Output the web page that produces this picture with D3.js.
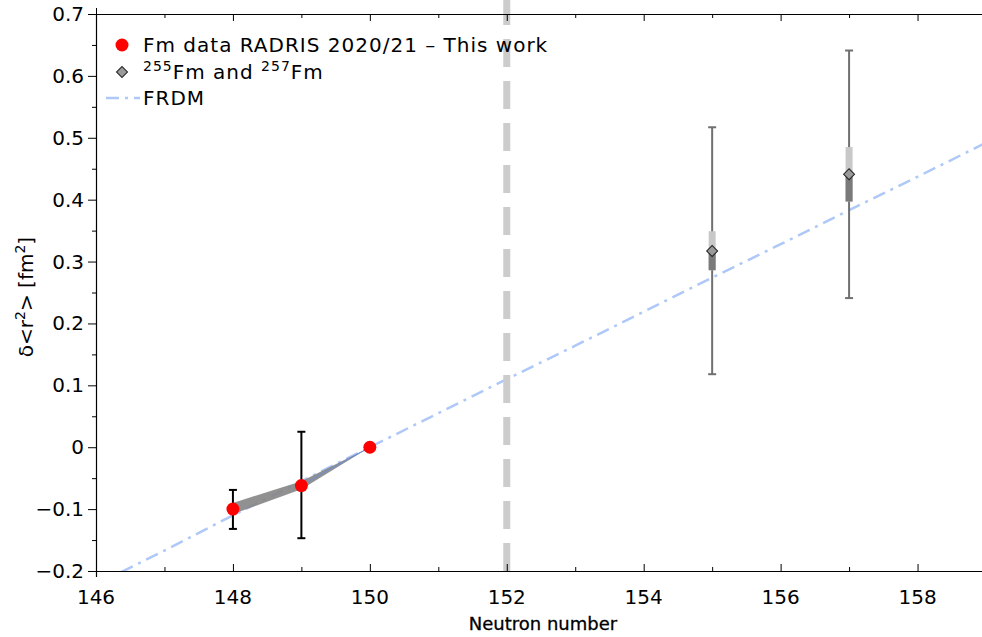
<!DOCTYPE html>
<html>
<head>
<meta charset="utf-8">
<script src="https://cdn.jsdelivr.net/npm/d3@7"></script>
<style>
  body { margin: 0; background: #fff; }
  svg { display: block; font-family: "DejaVu Sans", sans-serif; }
</style>
</head>
<body>
<svg id="chart" width="982" height="637"></svg>
<script>
// data
const fmN = [148, 149, 150];
const fmR2 = [-0.100, -0.062, 0.000];
const fmErrHi = [-0.069, 0.025, 0.000];
const fmErrLo = [-0.132, -0.147, 0.000];

// grey uncertainty band between the RADRIS points
const bandN = [148, 149, 150];
const bandHi = [-0.090, -0.055, 0.000];
const bandLo = [-0.108, -0.068, 0.000];

const oddN = [155, 157];
const oddR2 = [0.317, 0.441];
const oddErrHi = [0.517, 0.641];
const oddErrLo = [0.118, 0.241];
const oddSysHi = [0.349, 0.485];
const oddSysLo = [0.286, 0.397];

const frdmN = [146, 147, 148, 149, 150, 151, 152, 153, 154, 155, 156, 157, 158, 159];
const frdmR2 = [-0.222, -0.167, -0.110, -0.055, 0.000, 0.055, 0.110, 0.164, 0.219, 0.274, 0.328, 0.383, 0.437, 0.492];

const xTicks = [146, 148, 150, 152, 154, 156, 158];
const yTicks = [-0.2, -0.1, 0, 0.1, 0.2, 0.3, 0.4, 0.5, 0.6, 0.7];
const shellN = 152;

const svg = d3.select("#chart");
const plotL = 96, plotT = 14, plotR = 986, plotB = 571;

const x = d3.scaleLinear().domain([146, 159]).range([plotL, plotR]);
const y = d3.scaleLinear().domain([-0.2, 0.7]).range([plotB, plotT]);

svg.append("clipPath").attr("id", "plot-clip")
    .append("rect")
    .attr("x", plotL).attr("y", plotT)
    .attr("width", plotR - plotL).attr("height", plotB - plotT);

const g = svg.append("g").attr("clip-path", "url(#plot-clip)");

// N = 152 shell closure marker, dashes counted up from the axis
svg.append("line")
    .attr("x1", x(shellN)).attr("x2", x(shellN))
    .attr("y1", plotB).attr("y2", 0)
    .attr("stroke", "#cccccc")
    .attr("stroke-width", 7)
    .attr("stroke-dasharray", "28,14");

// FRDM
g.append("path")
    .datum(frdmN.map((n, i) => [n, frdmR2[i]]))
    .attr("d", d3.line().x(d => x(d[0])).y(d => y(d[1])))
    .attr("fill", "none")
    .attr("stroke", "#aec8f7")
    .attr("stroke-width", 2.5)
    .attr("stroke-dasharray", "13,6,3,6");

// grey band
const band = bandN.map((n, i) => ({ n, hi: bandHi[i], lo: bandLo[i] }));
g.append("path")
    .datum(band)
    .attr("d", d3.area().x(d => x(d.n)).y0(d => y(d.lo)).y1(d => y(d.hi)))
    .attr("fill", "#858585")
    .attr("opacity", 0.9);
g.append("path")
    .datum(band.slice(1))
    .attr("d", d3.line().x(d => x(d.n)).y(d => y((d.hi + d.lo) / 2)))
    .attr("fill", "none")
    .attr("stroke", "#6d8fd8")
    .attr("stroke-width", 1);

// error bars, RADRIS
fmN.forEach((n, i) => {
    if (fmErrHi[i] === fmErrLo[i]) return;
    const cx = x(n);
    g.append("line")
        .attr("x1", cx).attr("x2", cx)
        .attr("y1", y(fmErrHi[i])).attr("y2", y(fmErrLo[i]))
        .attr("stroke", "#000").attr("stroke-width", 2);
    [fmErrHi[i], fmErrLo[i]].forEach(v => {
        g.append("line")
            .attr("x1", cx - 4).attr("x2", cx + 4)
            .attr("y1", y(v)).attr("y2", y(v))
            .attr("stroke", "#000").attr("stroke-width", 2);
    });
});

g.selectAll("circle.fm")
    .data(fmN)
    .join("circle")
    .attr("class", "fm")
    .attr("cx", d => x(d))
    .attr("cy", (d, i) => y(fmR2[i]))
    .attr("r", 6.5)
    .attr("fill", "#ff0000");

// 255Fm and 257Fm
oddN.forEach((n, i) => {
    const cx = x(n);
    g.append("line")
        .attr("x1", cx).attr("x2", cx)
        .attr("y1", y(oddErrHi[i])).attr("y2", y(oddErrLo[i]))
        .attr("stroke", "#707070").attr("stroke-width", 2);
    [oddErrHi[i], oddErrLo[i]].forEach(v => {
        g.append("line")
            .attr("x1", cx - 4).attr("x2", cx + 4)
            .attr("y1", y(v)).attr("y2", y(v))
            .attr("stroke", "#707070").attr("stroke-width", 2);
    });
    g.append("rect")
        .attr("x", cx - 3.5).attr("width", 7)
        .attr("y", y(oddSysHi[i]))
        .attr("height", y(oddSysLo[i]) - y(oddSysHi[i]))
        .attr("fill", "#c8c8c8");
    g.append("rect")
        .attr("x", cx - 3.5).attr("width", 7)
        .attr("y", y(oddR2[i]))
        .attr("height", y(oddSysLo[i]) - y(oddR2[i]))
        .attr("fill", "#7a7a7a");
});

const diamond = d3.symbol().type(d3.symbolSquare).size(60);
g.selectAll("path.odd")
    .data(oddN)
    .join("path")
    .attr("class", "odd")
    .attr("d", diamond)
    .attr("transform", (d, i) => `translate(${x(d)},${y(oddR2[i])}) rotate(45)`)
    .attr("fill", "#9a9a9a")
    .attr("stroke", "#222")
    .attr("stroke-width", 1);

// axes
const xAxis = svg.append("g")
    .attr("transform", `translate(0,${plotB})`)
    .call(d3.axisBottom(x).tickValues(d3.range(146, 160)).tickFormat(""));
xAxis.selectAll(".tick line").attr("y2", d => d % 2 === 0 ? -7 : -4);
xAxis.select(".domain").attr("stroke-width", 1.2);
svg.append("g").selectAll("text")
    .data(xTicks)
    .join("text")
    .attr("x", d => x(d))
    .attr("y", plotB + 33)
    .attr("text-anchor", "middle")
    .style("font-size", "20px")
    .attr("fill", "#000")
    .text(d => d);

const topAxis = svg.append("g")
    .attr("transform", `translate(0,${plotT})`)
    .call(d3.axisTop(x).tickValues(d3.range(146, 160)).tickFormat(""));
topAxis.selectAll(".tick line").attr("y2", d => d % 2 === 0 ? 7 : 4);

const yAxis = svg.append("g")
    .attr("transform", `translate(${plotL},0)`)
    .call(d3.axisLeft(y).tickValues(d3.range(-0.2, 0.701, 0.05)).tickFormat(""));
yAxis.selectAll(".tick line").attr("x2", d => Math.abs(Math.round(d * 20)) % 2 === 0 ? -8 : -4);
yAxis.select(".domain").attr("stroke-width", 1.2);
svg.append("g").selectAll("text")
    .data(yTicks)
    .join("text")
    .attr("x", plotL - 12)
    .attr("y", d => y(d) + 7)
    .attr("text-anchor", "end")
    .style("font-size", "20px")
    .attr("fill", "#000")
    .text(d => d === 0 ? "0" : d3.format(".1f")(d).replace("-", "\u2212"));

svg.selectAll(".domain").attr("stroke", "#000");

// axis titles
svg.append("text")
    .attr("x", 543).attr("y", 630)
    .attr("text-anchor", "middle")
    .style("font-size", "18px")
    .style("stroke", "#000")
    .style("stroke-width", 0.3)
    .text("Neutron number");

const yTitle = svg.append("text")
    .attr("transform", "translate(33,297) rotate(-90)")
    .attr("text-anchor", "middle")
    .style("font-size", "20px");
yTitle.append("tspan").text("\u03b4<r");
yTitle.append("tspan").attr("dy", -8).style("font-size", "14px").text("2");
yTitle.append("tspan").attr("dy", 8).text("> [fm");
yTitle.append("tspan").attr("dy", -8).style("font-size", "14px").text("2");
yTitle.append("tspan").attr("dy", 8).text("]");

// legend (no background: the N=152 line shows through it)
const leg = svg.append("g").style("font-size", "20px").style("letter-spacing", "1px");
leg.append("circle").attr("cx", 122).attr("cy", 45).attr("r", 6.5).attr("fill", "#ff0000");
leg.append("text").attr("x", 143).attr("y", 52).text("Fm data RADRIS 2020/21 \u2013 This work");
leg.append("path").attr("d", diamond)
    .attr("transform", "translate(122,72) rotate(45)")
    .attr("fill", "#9a9a9a").attr("stroke", "#222");
const t2 = leg.append("text").attr("x", 143).attr("y", 79);
t2.append("tspan").attr("dy", -8).style("font-size", "14px").text("255");
t2.append("tspan").attr("dy", 8).text("Fm and ");
t2.append("tspan").attr("dy", -8).style("font-size", "14px").text("257");
t2.append("tspan").attr("dy", 8).text("Fm");
leg.append("line").attr("x1", 106).attr("x2", 140).attr("y1", 98).attr("y2", 98)
    .attr("stroke", "#aec8f7").attr("stroke-width", 2.5).attr("stroke-dasharray", "13,6,3,6");
leg.append("text").attr("x", 143).attr("y", 105).text("FRDM");
</script>
</body>
</html>
